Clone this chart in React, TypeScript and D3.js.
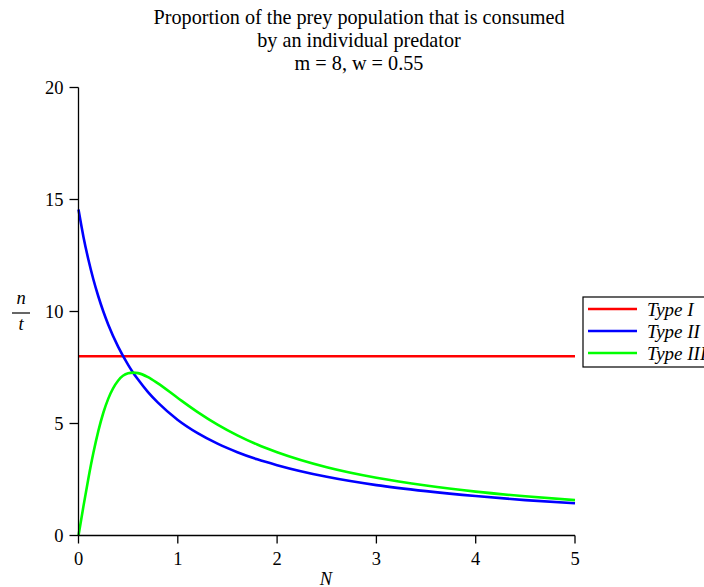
import React from "react";
import * as d3 from "d3";

const titleLines = [
  "Proportion of the prey population that is consumed",
  "by an individual predator",
  "m = 8, w = 0.55",
];
const xTicks = [0, 1, 2, 3, 4, 5];
const yTicks = [0, 5, 10, 15, 20];

const nValues = [0, 0.05, 0.1, 0.15, 0.2, 0.25, 0.3, 0.4, 0.5, 0.55, 0.6, 0.7, 0.8, 1.0, 1.2, 1.4, 1.6, 1.8, 2.0, 2.5, 3.0, 3.5, 4.0, 4.5, 5.0];
const typeI = [8, 8, 8, 8, 8, 8, 8, 8, 8, 8, 8, 8, 8, 8, 8, 8, 8, 8, 8, 8, 8, 8, 8, 8, 8];
const typeII = [14.55, 13.33, 12.31, 11.43, 10.67, 10.0, 9.41, 8.42, 7.62, 7.27, 6.96, 6.4, 5.93, 5.16, 4.57, 4.1, 3.72, 3.4, 3.14, 2.62, 2.25, 1.98, 1.76, 1.58, 1.44];
const typeIII = [0, 1.31, 2.56, 3.69, 4.67, 5.48, 6.11, 6.92, 7.24, 7.27, 7.25, 7.07, 6.79, 6.14, 5.51, 4.95, 4.47, 4.06, 3.72, 3.05, 2.58, 2.23, 1.96, 1.75, 1.58];

const seriesNames = ["Type I", "Type II", "Type III"];
const seriesColors = ["#ff0000", "#0000ff", "#00ff00"];
const seriesData = [typeI, typeII, typeIII];

const FONT = "Liberation Serif";

export default function App() {
  const W = 704, H = 587;
  const x = d3.scaleLinear().domain([0, 5]).range([78.5, 575]);
  const y = d3.scaleLinear().domain([0, 20]).range([535.5, 87.5]);
  const line = d3
    .line<number>()
    .x((_, i) => x(nValues[i]))
    .y((d) => y(d))
    .curve(d3.curveMonotoneX);

  return (
    <svg width={W} height={H} style={{ position: "absolute", left: 0, top: 0, background: "#fff" }}>
      {titleLines.map((t, i) => (
        <text key={i} x={359} y={24 + i * 23} textAnchor="middle" fontFamily={FONT} fontSize={20.2} fill="#000">
          {t}
        </text>
      ))}
      {/* curves */}
      {seriesData.map((s, k) => (
        <path key={k} d={line(s) || ""} fill="none" stroke={seriesColors[k]} strokeWidth={2.6} />
      ))}
      {/* axes */}
      <line x1={x(0)} x2={x(5)} y1={y(0)} y2={y(0)} stroke="#000" strokeWidth={1.3} />
      <line x1={x(0)} x2={x(0)} y1={y(0)} y2={y(20)} stroke="#000" strokeWidth={1.3} />
      {xTicks.map((t) => (
        <g key={t}>
          <line x1={x(t)} x2={x(t)} y1={y(0)} y2={y(0) + 8} stroke="#000" strokeWidth={1.3} />
          <text x={x(t)} y={y(0) + 29} textAnchor="middle" fontFamily={FONT} fontSize={18.5} fill="#000">
            {t}
          </text>
        </g>
      ))}
      {yTicks.map((t) => (
        <g key={t}>
          <line x1={x(0) - 9} x2={x(0)} y1={y(t)} y2={y(t)} stroke="#000" strokeWidth={1.3} />
          <text x={x(0) - 15} y={y(t) + 6} textAnchor="end" fontFamily={FONT} fontSize={18.5} fill="#000">
            {t}
          </text>
        </g>
      ))}
      {/* axis labels */}
      <text x={326} y={585} textAnchor="middle" fontFamily={FONT} fontStyle="italic" fontSize={18.5} fill="#000">
        N
      </text>
      <text x={21} y={304} textAnchor="middle" fontFamily={FONT} fontStyle="italic" fontSize={18.5} fill="#000">
        n
      </text>
      <line x1={12} x2={30} y1={313} y2={313} stroke="#000" strokeWidth={1.2} />
      <text x={21} y={330} textAnchor="middle" fontFamily={FONT} fontStyle="italic" fontSize={18.5} fill="#000">
        t
      </text>
      {/* legend */}
      <rect x={583} y={297} width={130} height={70} fill="#fff" stroke="#000" strokeWidth={1.2} />
      {seriesNames.map((n, k) => (
        <g key={n}>
          <line x1={588} x2={637} y1={309 + k * 22} y2={309 + k * 22} stroke={seriesColors[k]} strokeWidth={2.6} />
          <text x={647} y={316 + k * 22} fontFamily={FONT} fontStyle="italic" fontSize={19} fill="#000">
            {n}
          </text>
        </g>
      ))}
    </svg>
  );
}
